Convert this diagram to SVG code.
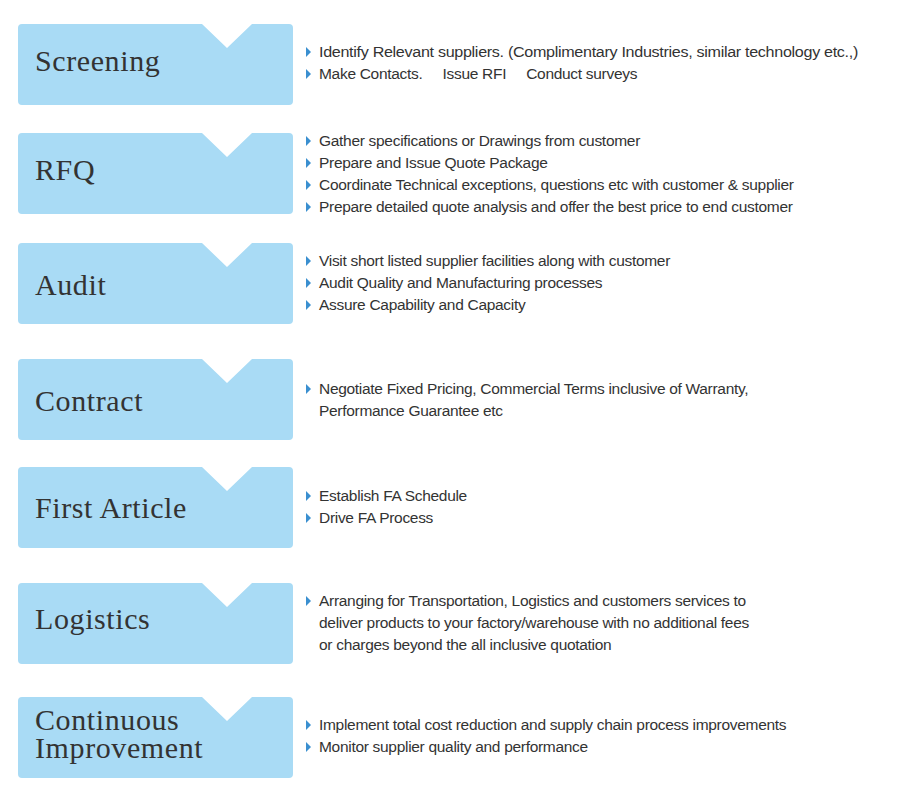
<svg xmlns="http://www.w3.org/2000/svg" width="900" height="800" viewBox="0 0 900 800">
<style>
.box{fill:#A9DBF5}
.t{font-family:"Liberation Serif",serif;font-size:30px;letter-spacing:0.6px;fill:#333}
.d{font-family:"Liberation Sans",Arial,sans-serif;font-size:15.5px;letter-spacing:-0.3px;fill:#333}
.b{fill:#3A8FD0}
</style>
<defs>
<path id="bx" d="M4,0 H184 L209,24 L234,0 H271 Q275,0 275,4 V77 Q275,81 271,81 H4 Q0,81 0,77 V4 Q0,0 4,0 Z"/>
<path id="bl" d="M0,-5 L5,0 L0,5 Z"/>
</defs>
<rect width="900" height="800" fill="#fff"/>
<g id="screening" transform="translate(18,24)"><use href="#bx" class="box"/><text class="t" x="17" y="47">Screening</text>
<use href="#bl" class="b" x="288" y="28"/><use href="#bl" class="b" x="288" y="50"/>
<text class="d" x="301" y="33" textLength="539" lengthAdjust="spacingAndGlyphs">Identify Relevant suppliers. (Complimentary Industries, similar technology etc.,)</text>
<text class="d" x="301" y="55" xml:space="preserve">Make Contacts.     Issue RFI     Conduct surveys</text></g>
<g id="rfq" transform="translate(18,133)"><use href="#bx" class="box"/><text class="t" x="17" y="47">RFQ</text>
<use href="#bl" class="b" x="288" y="8"/><use href="#bl" class="b" x="288" y="30"/><use href="#bl" class="b" x="288" y="52"/><use href="#bl" class="b" x="288" y="74"/>
<text class="d" x="301" y="13">Gather specifications or Drawings from customer</text>
<text class="d" x="301" y="35">Prepare and Issue Quote Package</text>
<text class="d" x="301" y="57">Coordinate Technical exceptions, questions etc with customer &amp; supplier</text>
<text class="d" x="301" y="79">Prepare detailed quote analysis and offer the best price to end customer</text></g>
<g id="audit" transform="translate(18,243)"><use href="#bx" class="box"/><text class="t" x="17" y="52">Audit</text>
<use href="#bl" class="b" x="288" y="18"/><use href="#bl" class="b" x="288" y="40"/><use href="#bl" class="b" x="288" y="62"/>
<text class="d" x="301" y="23">Visit short listed supplier facilities along with customer</text>
<text class="d" x="301" y="45">Audit Quality and Manufacturing processes</text>
<text class="d" x="301" y="67">Assure Capability and Capacity</text></g>
<g id="contract" transform="translate(18,359)"><use href="#bx" class="box"/><text class="t" x="17" y="52">Contract</text>
<use href="#bl" class="b" x="288" y="30"/>
<text class="d" x="301" y="35">Negotiate Fixed Pricing, Commercial Terms inclusive of Warranty,</text>
<text class="d" x="301" y="57">Performance Guarantee etc</text></g>
<g id="first-article" transform="translate(18,467)"><use href="#bx" class="box"/><text class="t" x="17" y="51">First Article</text>
<use href="#bl" class="b" x="288" y="29"/><use href="#bl" class="b" x="288" y="51"/>
<text class="d" x="301" y="34">Establish FA Schedule</text>
<text class="d" x="301" y="56">Drive FA Process</text></g>
<g id="logistics" transform="translate(18,583)"><use href="#bx" class="box"/><text class="t" x="17" y="46">Logistics</text>
<use href="#bl" class="b" x="288" y="18"/>
<text class="d" x="301" y="23">Arranging for Transportation, Logistics and customers services to</text>
<text class="d" x="301" y="45">deliver products to your factory/warehouse with no additional fees</text>
<text class="d" x="301" y="67">or charges beyond the all inclusive quotation</text></g>
<g id="continuous-improvement" transform="translate(18,697)"><use href="#bx" class="box"/><text class="t" x="17" y="33">Continuous</text><text class="t" x="17" y="61">Improvement</text>
<use href="#bl" class="b" x="288" y="28"/><use href="#bl" class="b" x="288" y="50"/>
<text class="d" x="301" y="33">Implement total cost reduction and supply chain process improvements</text>
<text class="d" x="301" y="55">Monitor supplier quality and performance</text></g>
<g id="connectors"/>
</svg>
